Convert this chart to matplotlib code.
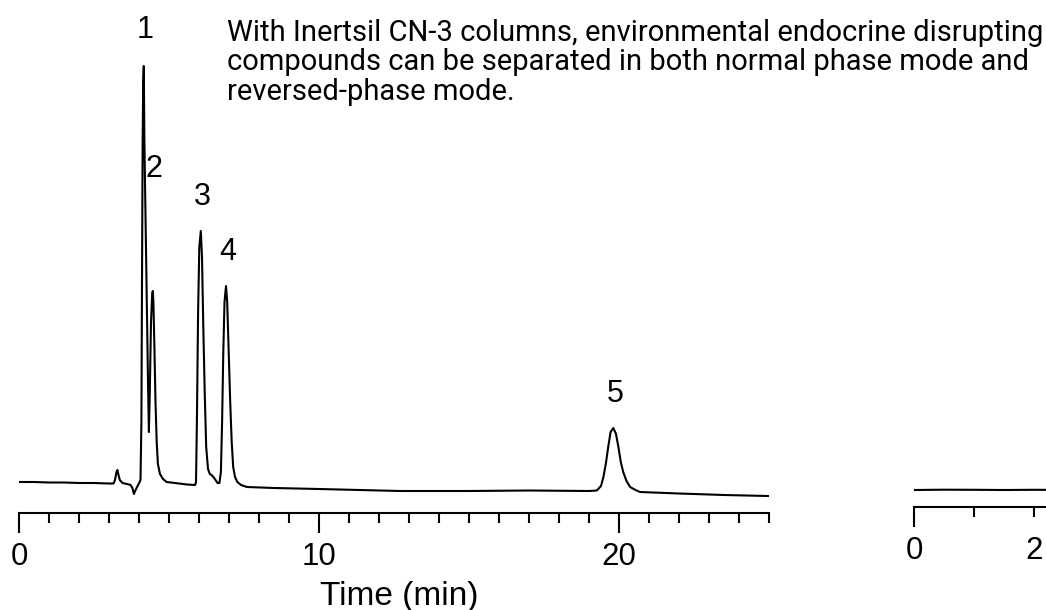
import matplotlib
matplotlib.use('Agg')
from matplotlib import pyplot as plt
from matplotlib.ticker import MultipleLocator

# normal-phase run: detector trace, time in min, signal in arbitrary units
time_min = [0.0, 0.5, 1.0, 1.5, 2.0, 2.5, 3.0, 3.15,
            3.20, 3.25, 3.28, 3.31, 3.36, 3.45, 3.60, 3.72, 3.78, 3.83, 3.87, 3.92, 3.97, 4.02,
            4.05, 4.08, 4.10, 4.12, 4.14, 4.16, 4.18, 4.22, 4.26, 4.30, 4.33,
            4.36, 4.40, 4.44, 4.46, 4.48, 4.51, 4.55, 4.59, 4.63, 4.70, 4.80, 4.92,
            5.20, 5.60, 5.87,
            5.90, 5.93, 5.97, 6.01, 6.06, 6.10, 6.14, 6.19, 6.24, 6.30, 6.36, 6.42, 6.48, 6.55, 6.62, 6.68,
            6.73, 6.77, 6.81, 6.85, 6.90, 6.94, 6.99, 7.04, 7.09, 7.14, 7.20, 7.28, 7.40,
            7.60, 8.50, 10.0, 12.7, 15.0, 17.0, 19.0, 19.26,
            19.40, 19.48, 19.56, 19.64, 19.72, 19.81, 19.90, 19.98, 20.06, 20.14, 20.25, 20.37, 20.55,
            20.70, 22.0, 23.5, 24.97]
signal = [0.0, 0.0, -0.5, -0.5, -1.0, -1.0, -1.5, -1.5,
          2.0, 10.0, 12.0, 8.0, 2.0, -1.0, -2.0, -3.0, -6.0, -12.0, -9.0, -6.0, -3.0, 0.0,
          2.0, 60.0, 200.0, 332.0, 400.0, 416.0, 340.0, 260.0, 180.0, 100.0, 50.0,
          90.0, 160.0, 188.0, 191.0, 180.0, 140.0, 80.0, 40.0, 18.0, 8.0, 3.0, 0.0,
          -1.0, -2.5, -3.0,
          0.0, 60.0, 170.0, 235.0, 251.0, 225.0, 160.0, 90.0, 35.0, 13.0, 8.0, 7.0, 5.0, 2.0, -1.0, -1.0,
          10.0, 60.0, 130.0, 180.0, 196.0, 180.0, 130.0, 80.0, 40.0, 15.0, 5.0, 0.0, -3.0,
          -5.0, -6.0, -7.0, -9.0, -9.0, -8.5, -9.0, -8.5,
          -4.0, 5.0, 18.0, 35.0, 50.0, 54.0, 48.0, 35.0, 20.0, 10.0, 1.0, -5.0, -8.0,
          -10.0, -11.5, -13.0, -14.0]

peak_names = ['1', '2', '3', '4', '5']
label_t = [4.2, 4.5, 6.1, 6.97, 19.87]
label_s = [444, 305, 277, 222, 80]

# reversed-phase run (only its start is shown)
time2_min = [0.0, 0.5, 1.0, 1.5, 2.0, 2.5]
signal2 = [0.0, 0.3, 0.2, 0.0, 0.2, 0.1]

note = ['With Inertsil CN-3 columns, environmental endocrine disrupting',
        'compounds can be separated in both normal phase mode and',
        'reversed-phase mode.']

W, H = 1046, 610
fig = plt.figure(figsize=(W / 100, H / 100), dpi=100)

tick_font = 'Liberation Sans'
lw_axis = 1.5

# main chromatogram, 30 px per minute
ax = fig.add_axes([19 / W, (H - 513.3) / H, 750 / W, 513.3 / H])
ax.plot(time_min, signal, color='black', lw=1.5, solid_joinstyle='round')
ax.set_xlim(0, 25)
ax.set_ylim(-31.3, 482)
for side in ['left', 'right', 'top']:
    ax.spines[side].set_visible(False)
ax.spines['bottom'].set_linewidth(lw_axis)
ax.set_yticks([])
ax.set_xticks([0, 10, 20])
ax.set_xticklabels(['0', '10', '20'], fontfamily=tick_font)
ax.xaxis.set_minor_locator(MultipleLocator(1))
ax.tick_params(axis='x', which='major', direction='out', length=14.4, width=lw_axis,
               labelsize=22.5, pad=6.5)
ax.tick_params(axis='x', which='minor', direction='out', length=7.2, width=lw_axis)
ax.patch.set_visible(False)
fig.text(399 / W, 1 - 605 / H, 'Time (min)', ha='center', va='baseline',
         fontsize=24, fontfamily=tick_font)

for name, t, s in zip(peak_names, label_t, label_s):
    ax.text(t, s, name, ha='center', va='baseline', fontsize=22, fontfamily=tick_font,
            clip_on=False)

# second chromatogram, 60 px per minute, runs off the right edge
ax2 = fig.add_axes([914 / W, (H - 506.7) / H, 300 / W, 506.7 / H])
ax2.plot(time2_min, signal2, color='black', lw=1.5)
ax2.set_xlim(0, 5)
ax2.set_ylim(-16.7, 490)
for side in ['left', 'right', 'top']:
    ax2.spines[side].set_visible(False)
ax2.spines['bottom'].set_linewidth(lw_axis)
ax2.set_yticks([])
ax2.set_xticks([0])
ax2.set_xticklabels(['0'], fontfamily=tick_font)
ax2.set_xticks([1, 2, 3, 4, 5], labels=['', '2', '', '', ''], minor=True,
               fontfamily=tick_font)
ax2.tick_params(axis='x', which='major', direction='out', length=14.4, width=lw_axis,
                labelsize=22.5, pad=6.5)
ax2.tick_params(axis='x', which='minor', direction='out', length=7.2, width=lw_axis,
                labelsize=22.5, pad=6.5 + 7.2)
ax2.patch.set_visible(False)

for i, line in enumerate(note):
    fig.text(227 / W, 1 - (41 + 29.5 * i) / H, line, ha='left', va='baseline',
             fontsize=21, fontfamily='Roboto')

fig.savefig('out.png', dpi=100)
